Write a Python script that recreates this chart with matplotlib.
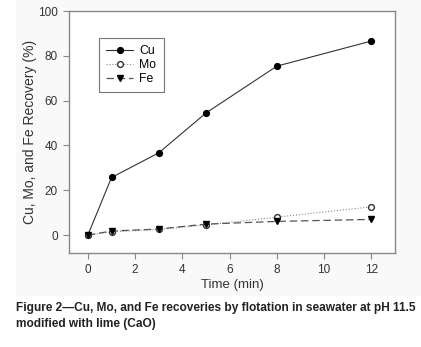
import matplotlib
matplotlib.use("Agg")
import matplotlib.pyplot as plt
import matplotlib.patches as patches

plt.rcParams['font.family'] = ['Liberation Sans', 'DejaVu Sans']

# data
time_min = [0, 1, 3, 5, 8, 12]
cu = [0, 25.7, 36.7, 54.5, 75.4, 86.6]
mo = [0, 1.5, 2.5, 4.5, 8.0, 12.6]
fe = [0, 1.8, 2.7, 4.9, 6.1, 7.0]
x_ticks = [0, 2, 4, 6, 8, 10, 12]
y_ticks = [0, 20, 40, 60, 80, 100]

caption = ("Figure 2\u2014Cu, Mo, and Fe recoveries by flotation in seawater at pH 11.5\n"
           "modified with lime (CaO)")

fig = plt.figure(figsize=(4.21, 3.47), dpi=100)
fig.patch.set_facecolor('white')

# light panel behind the chart
bg = patches.Rectangle((16 / 421, 1 - 296 / 347), 405 / 421, 296 / 347,
                       transform=fig.transFigure, facecolor='#f9f9f9',
                       edgecolor='none', zorder=-10)
fig.add_artist(bg)

ax = fig.add_axes([69 / 421, 1 - 253 / 347, 326 / 421, 242 / 347])
ax.set_zorder(1)
ax.set_facecolor('white')

ax.plot(time_min, cu, '-', color='#333333', lw=0.8, marker='o', ms=4.2,
        mfc='black', mec='black', label='Cu', zorder=3)
ax.plot(time_min, mo, ':', color='#888888', lw=0.8, marker='o', ms=4.2,
        mfc='white', mec='#333333', label='Mo', zorder=3)
ax.plot(time_min, fe, '--', color='#555555', lw=0.9, dashes=(6, 3), marker='v', ms=4.5,
        mfc='black', mec='black', label='Fe', zorder=4)

ax.set_xlim(-0.8, 13)
ax.set_ylim(-8, 100)
ax.set_xticks(x_ticks)
ax.set_yticks(y_ticks)

for s in ax.spines.values():
    s.set_color('#888888')
    s.set_linewidth(1.0)
ax.tick_params(direction='out', length=4, width=0.8, color='#888888',
               labelsize=8.5, labelcolor='#333333', pad=4)

ax.set_xlabel('Time (min)', fontsize=9.5, color='#333333', labelpad=2)
ax.set_ylabel('Cu, Mo, and Fe Recovery (%)', fontsize=10, color='#333333', labelpad=1)

leg = ax.legend(loc='upper left', bbox_to_anchor=(0.092, 0.888), fontsize=8.8,
                frameon=True, fancybox=False, handlelength=2.2, borderaxespad=0,
                borderpad=0.6, labelspacing=0.15, handletextpad=0.5)
leg.get_frame().set_edgecolor('#555555')
leg.get_frame().set_linewidth(0.8)

fig.text(16 / 421, 1 - 302 / 347, caption, fontsize=8.6, fontweight='bold',
         color='#222222', va='top', ha='left', linespacing=1.5)

fig.savefig('out.png', dpi=100)
